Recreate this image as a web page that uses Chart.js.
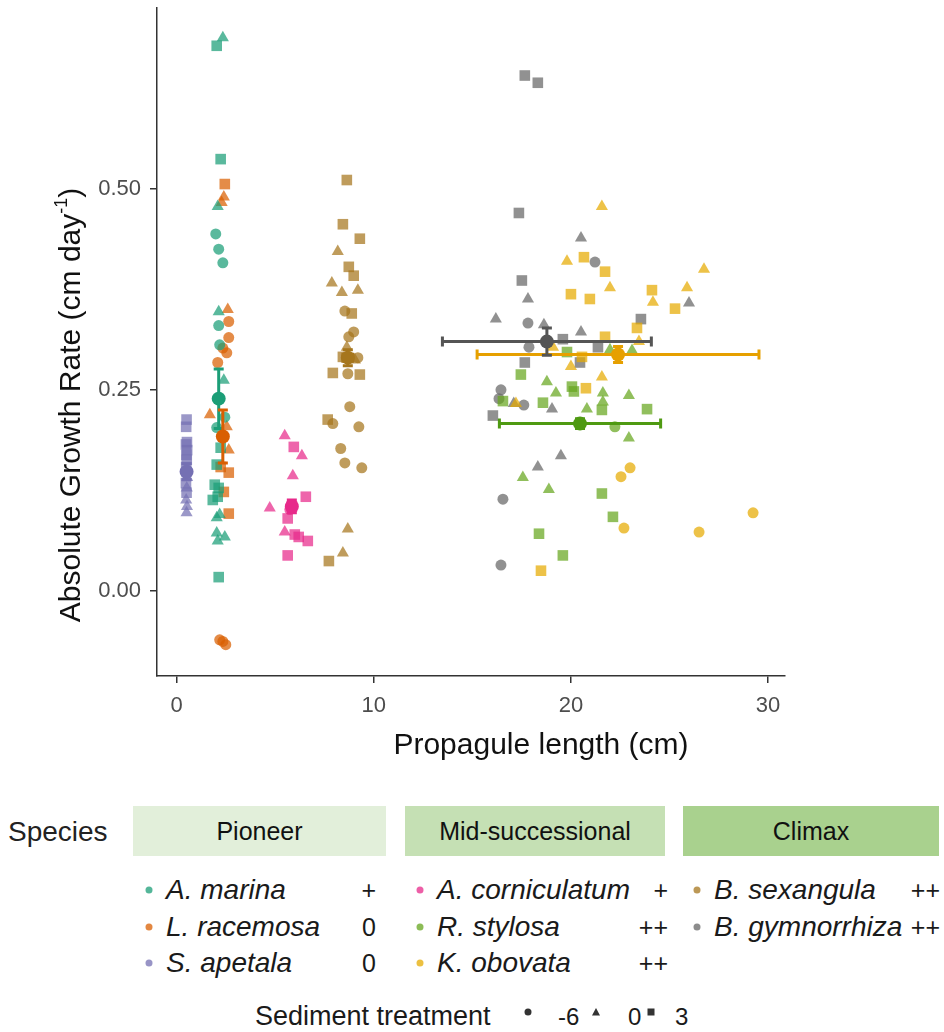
<!DOCTYPE html>
<html>
<head>
<meta charset="utf-8">
<script src="https://cdn.jsdelivr.net/npm/chart.js@4.4.1/dist/chart.umd.min.js"></script>
<style>
  body { margin: 0; background: #fff; font-family: "Liberation Sans", Arial, sans-serif; }
  #wrap { position: relative; width: 944px; height: 1032px; overflow: hidden; }
  #chart { position: absolute; left: 0; top: 0; }
  .lg { position: absolute; white-space: nowrap; line-height: 1; transform: translateY(-50%); color: #1a1a1a; }
  .box { position: absolute; height: 50px; display: flex; align-items: center; justify-content: center; font-size: 25px; color: #111; }
  .dot { position: absolute; width: 7px; height: 7px; border-radius: 50%; transform: translate(-50%, -50%); }
</style>
</head>
<body>
<div id="wrap">
  <canvas id="chart" width="944" height="780"></canvas>
  <div id="legend"></div>
</div>
<script>
// each point: [propagule length (cm), absolute growth rate (cm/day), sediment treatment]
const aMarina = [
  [2.03, 0.678, 3], [2.34, 0.688, 0], [2.23, 0.537, 3], [2.08, 0.478, 0], [1.98, 0.444, -6],
  [2.13, 0.425, -6], [2.34, 0.408, -6], [2.13, 0.347, 0], [2.13, 0.330, -6], [2.18, 0.306, -6],
  [2.39, 0.262, 0], [2.44, 0.216, -6], [2.03, 0.203, -6], [2.23, 0.178, 3], [2.03, 0.157, 3],
  [1.93, 0.132, 3], [2.13, 0.128, 3], [1.83, 0.113, 3], [2.08, 0.117, 3], [2.03, 0.091, 0],
  [2.18, 0.095, 0], [2.03, 0.072, 0], [2.44, 0.067, 0], [2.08, 0.062, 0], [2.13, 0.017, 3]
];
const lRacemosa = [
  [2.44, 0.506, 3], [2.39, 0.490, 0], [2.28, 0.483, 0], [2.59, 0.350, 0], [2.64, 0.335, -6],
  [2.64, 0.315, -6], [2.34, 0.302, -6], [2.54, 0.296, -6], [2.08, 0.284, -6], [1.68, 0.219, 0],
  [2.54, 0.204, 0], [2.64, 0.175, 0], [2.23, 0.154, 3], [2.64, 0.147, 3], [2.39, 0.123, 3],
  [2.64, 0.096, 3], [2.18, -0.061, -6], [2.49, -0.067, -6], [2.34, -0.063, -6]
];
const sApetala = [
  [0.50, 0.213, 3], [0.48, 0.204, 3], [0.52, 0.185, 3], [0.47, 0.182, 3], [0.53, 0.175, 3],
  [0.49, 0.169, 3], [0.51, 0.163, 3], [0.48, 0.154, 3], [0.52, 0.150, -6], [0.49, 0.146, -6],
  [0.53, 0.141, 0], [0.47, 0.134, 3], [0.51, 0.128, 0], [0.50, 0.122, 3], [0.48, 0.113, 0],
  [0.52, 0.105, 0], [0.50, 0.097, 0]
];
const aCorniculatum = [
  [5.48, 0.193, 0], [5.94, 0.179, 3], [6.35, 0.168, 0], [5.89, 0.143, 0], [6.55, 0.117, 3],
  [4.72, 0.103, 0], [5.74, 0.101, -6], [5.63, 0.090, 3], [5.48, 0.073, 0], [5.99, 0.070, 3],
  [6.19, 0.067, 3], [6.65, 0.062, 3], [5.63, 0.044, 3]
];
const rStylosa = [
  [19.80, 0.297, 3], [21.98, 0.300, 0], [23.10, 0.299, 0], [17.46, 0.269, 3], [18.78, 0.260, 0],
  [20.05, 0.254, 3], [20.15, 0.248, 3], [16.55, 0.236, 3], [19.24, 0.246, 0], [18.58, 0.234, 3],
  [21.62, 0.246, 0], [21.62, 0.235, 0], [21.57, 0.225, 3], [20.81, 0.226, 0], [22.94, 0.243, 0],
  [23.86, 0.226, 3], [22.23, 0.204, -6], [22.94, 0.190, 0], [17.56, 0.141, 0], [18.88, 0.126, 0],
  [21.57, 0.121, 3], [22.13, 0.092, 3], [18.38, 0.071, 3], [19.59, 0.044, 3]
];
const kObovata = [
  [21.57, 0.478, 0], [19.80, 0.410, 0], [20.66, 0.415, 3], [21.73, 0.397, 3], [21.98, 0.377, 0],
  [20.00, 0.369, 3], [20.96, 0.363, 3], [24.11, 0.374, 3], [24.16, 0.359, 0], [25.89, 0.377, 0],
  [26.75, 0.400, 0], [25.28, 0.351, 3], [23.35, 0.327, 3], [21.73, 0.316, 3], [23.45, 0.310, 0],
  [19.09, 0.303, 0], [20.56, 0.291, 3], [20.00, 0.279, 0], [21.57, 0.266, 0], [20.76, 0.252, 3],
  [17.21, 0.233, 0], [23.00, 0.153, -6], [22.54, 0.142, -6], [22.69, 0.078, -6], [26.50, 0.073, -6],
  [29.24, 0.097, -6], [18.48, 0.025, 3]
];
const bSexangula = [
  [8.63, 0.511, 3], [8.43, 0.456, 3], [9.29, 0.438, 3], [8.17, 0.422, 0], [8.73, 0.403, 3],
  [8.98, 0.392, 3], [7.87, 0.383, 0], [8.38, 0.371, 0], [9.19, 0.374, 0], [8.53, 0.348, -6],
  [8.88, 0.345, 3], [8.98, 0.322, -6], [8.73, 0.316, -6], [8.63, 0.303, 0], [8.43, 0.291, 3],
  [9.04, 0.287, 0], [9.19, 0.290, -6], [7.92, 0.271, 3], [8.68, 0.270, -6], [9.29, 0.269, 3],
  [8.78, 0.229, -6], [7.66, 0.213, 3], [7.92, 0.208, -6], [9.24, 0.204, -6], [8.32, 0.177, -6],
  [8.53, 0.159, -6], [9.39, 0.153, -6], [8.68, 0.077, 0], [8.43, 0.047, 0], [7.72, 0.037, 3]
];
const bGymnorrhiza = [
  [17.66, 0.641, 3], [18.32, 0.632, 3], [17.36, 0.470, 3], [20.51, 0.439, 0], [21.22, 0.409, -6],
  [17.51, 0.386, 3], [17.82, 0.363, 0], [16.19, 0.338, 0], [17.82, 0.333, -6], [18.63, 0.331, 0],
  [20.51, 0.322, 0], [19.59, 0.313, 3], [23.55, 0.338, 3], [25.99, 0.358, 0], [17.87, 0.303, -6],
  [21.37, 0.303, 3], [17.66, 0.284, 3], [20.46, 0.284, 3], [16.45, 0.250, -6], [16.35, 0.239, -6],
  [17.10, 0.233, 0], [17.61, 0.231, -6], [19.04, 0.226, 0], [16.04, 0.218, 3], [19.49, 0.168, 0],
  [18.32, 0.154, 0], [16.55, 0.114, -6], [16.45, 0.032, -6]
];

const speciesNames = ['A. marina', 'L. racemosa', 'S. apetala', 'A. corniculatum', 'R. stylosa', 'K. obovata', 'B. sexangula', 'B. gymnorrhiza'];
const speciesPoints = [aMarina, lRacemosa, sApetala, aCorniculatum, rStylosa, kObovata, bSexangula, bGymnorrhiza];
const speciesSigns = ['+', '0', '0', '+', '++', '++', '++', '++'];
const speciesGroup = [0, 0, 0, 1, 1, 1, 2, 2];
const groupNames = ['Pioneer', 'Mid-successional', 'Climax'];

// species means with error bars (x = propagule length, y = growth rate)
const meanX = [2.13, 2.34, 0.50, 5.84, 20.46, 22.39, 8.68, 18.78];
const meanY = [0.239, 0.192, 0.148, 0.105, 0.208, 0.294, 0.290, 0.310];
const errX = [0.05, 0.05, 0.03, 0.20, 4.09, 7.15, 0.25, 5.30];
const errY = [0.037, 0.033, 0.010, 0.008, 0.006, 0.010, 0.010, 0.017];

const treatments = [-6, 0, 3];
const xTicks = [0, 10, 20, 30];
const yTicks = [0, 0.25, 0.5];

// styles
const colors = ['#1B9E77', '#D95F02', '#7570B3', '#E7298A', '#66A61E', '#E6AB02', '#A6761D', '#666666'];
const meanColors = ['#1B9E77', '#D95F02', '#7570B3', '#E7298A', '#4F9A12', '#E6A000', '#A6761D', '#555555'];
const shapeOf = { '-6': 'circle', '0': 'triangle', '3': 'rect' };
const radiusOf = { '-6': 5.5, '0': 7, '3': 7.5 };
const fadeCol = (hex, a) => {
  const n = parseInt(hex.slice(1), 16);
  return `rgba(${n >> 16},${(n >> 8) & 255},${n & 255},${a})`;
};

const datasets = speciesPoints.map((pts, i) => ({
  label: speciesNames[i],
  data: pts.map(p => ({ x: p[0], y: p[1], t: p[2] })),
  pointStyle: c => shapeOf[c.raw.t],
  pointRadius: c => radiusOf[c.raw.t],
  backgroundColor: fadeCol(colors[i], 0.72),
  borderWidth: 0,
  pointBorderWidth: 0
}));

// means + error bars drawn on top of the points
const meanBars = {
  id: 'meanBars',
  afterDatasetsDraw(chart) {
    const { ctx, scales: { x, y } } = chart;
    ctx.save();
    meanX.forEach((mx, i) => {
      const px = x.getPixelForValue(mx), py = y.getPixelForValue(meanY[i]);
      const x0 = x.getPixelForValue(mx - errX[i]), x1 = x.getPixelForValue(mx + errX[i]);
      const y0 = y.getPixelForValue(meanY[i] - errY[i]), y1 = y.getPixelForValue(meanY[i] + errY[i]);
      ctx.strokeStyle = meanColors[i];
      ctx.lineWidth = 3;
      ctx.beginPath();
      ctx.moveTo(x0, py); ctx.lineTo(x1, py);
      ctx.moveTo(x0, py - 5); ctx.lineTo(x0, py + 5);
      ctx.moveTo(x1, py - 5); ctx.lineTo(x1, py + 5);
      ctx.moveTo(px, y0); ctx.lineTo(px, y1);
      ctx.moveTo(px - 5, y0); ctx.lineTo(px + 5, y0);
      ctx.moveTo(px - 5, y1); ctx.lineTo(px + 5, y1);
      ctx.stroke();
      ctx.fillStyle = meanColors[i];
      ctx.beginPath();
      ctx.arc(px, py, 7, 0, Math.PI * 2);
      ctx.fill();
    });
    ctx.restore();
  }
};

// axis titles (y title carries a superscript)
const axisTitles = {
  id: 'axisTitles',
  afterDraw(chart) {
    const ctx = chart.ctx;
    ctx.save();
    ctx.fillStyle = '#111';
    ctx.textBaseline = 'middle';
    ctx.font = '30px "Liberation Sans", Arial, sans-serif';
    ctx.textAlign = 'center';
    ctx.fillText('Propagule length (cm)', 541, 746);

    ctx.translate(70, 405);
    ctx.rotate(-Math.PI / 2);
    const a = 'Absolute Growth Rate (cm day', sup = '-1', b = ')';
    ctx.font = '30px "Liberation Sans", Arial, sans-serif';
    const wa = ctx.measureText(a).width, wb = ctx.measureText(b).width;
    ctx.font = '18px "Liberation Sans", Arial, sans-serif';
    const ws = ctx.measureText(sup).width;
    let cx = -(wa + ws + wb) / 2;
    ctx.textAlign = 'left';
    ctx.font = '30px "Liberation Sans", Arial, sans-serif';
    ctx.fillText(a, cx, 2);
    ctx.font = '18px "Liberation Sans", Arial, sans-serif';
    ctx.fillText(sup, cx + wa, -8);
    ctx.font = '30px "Liberation Sans", Arial, sans-serif';
    ctx.fillText(b, cx + wa + ws, 2);
    ctx.restore();
  }
};

const axisLine = { display: true, color: '#333', width: 1.5 };
const tickGrid = { display: true, drawOnChartArea: false, drawTicks: true, tickLength: 7, color: '#333', lineWidth: 1.5 };
const tickFont = { family: '"Liberation Sans", Arial, sans-serif', size: 22 };

new Chart(document.getElementById('chart'), {
  type: 'scatter',
  data: { datasets },
  options: {
    responsive: false,
    animation: false,
    layout: { padding: { left: 56, top: 8, right: 159, bottom: 0 } },
    plugins: { legend: { display: false }, tooltip: { enabled: false } },
    scales: {
      x: {
        type: 'linear', min: -1.0, max: 30.86,
        afterBuildTicks: s => { s.ticks = xTicks.map(v => ({ value: v })); },
        afterFit: s => { s.height = 104; s.paddingLeft = 0; s.paddingRight = 0; },
        grid: tickGrid, border: axisLine,
        ticks: { color: '#4d4d4d', font: tickFont, padding: 10, callback: v => String(v) }
      },
      y: {
        type: 'linear', min: -0.106, max: 0.725,
        afterBuildTicks: s => { s.ticks = yTicks.map(v => ({ value: v })); },
        afterFit: s => { s.width = 101; s.paddingTop = 0; s.paddingBottom = 0; },
        grid: tickGrid, border: axisLine,
        ticks: { color: '#4d4d4d', font: tickFont, padding: 9, callback: v => v.toFixed(2) }
      }
    }
  },
  plugins: [meanBars, axisTitles]
});

// legend below the panel
const legend = document.getElementById('legend');
const add = (html) => legend.insertAdjacentHTML('beforeend', html);
add('<div class="lg" style="left:8px;top:832px;font-size:28px;color:#222">Species</div>');
const boxes = [[133, 253, '#E2EFDA'], [405, 260, '#C5E0B4'], [683, 256, '#A9D18E']];
groupNames.forEach((g, k) => {
  const [l, w, c] = boxes[k];
  add(`<div class="box" style="left:${l}px;top:806px;width:${w}px;background:${c}">${g}</div>`);
});
const colDot = [149, 420, 697], colName = [166, 437, 714], colSign = [376, 668, 940];
const rowY = [890, 927, 963];
const rowIdx = [0, 0, 0];
speciesNames.forEach((name, i) => {
  const g = speciesGroup[i], r = rowIdx[g]++;
  add(`<div class="dot" style="left:${colDot[g]}px;top:${rowY[r]}px;background:${fadeCol(colors[i], 0.75)}"></div>`);
  add(`<div class="lg" style="left:${colName[g]}px;top:${rowY[r]}px;font-size:28px;font-style:italic">${name}</div>`);
  add(`<div class="lg" style="right:${944 - colSign[g]}px;top:${rowY[r]}px;font-size:25px">${speciesSigns[i]}</div>`);
});
add('<div class="lg" style="left:255px;top:1016px;font-size:27px">Sediment treatment</div>');
const symX = [528, 596, 651], labX = [558, 628, 675];
const symSvg = {
  '-6': '<circle cx="5" cy="5" r="3.5" fill="#333"/>',
  '0': '<polygon points="5,1 9,8.5 1,8.5" fill="#333"/>',
  '3': '<rect x="1.5" y="1.5" width="7" height="7" fill="#333"/>'
};
treatments.forEach((t, k) => {
  add(`<svg style="position:absolute;left:${symX[k] - 5}px;top:${1012 - 5}px" width="10" height="10">${symSvg[t]}</svg>`);
  add(`<div class="lg" style="left:${labX[k]}px;top:1017px;font-size:24px">${t}</div>`);
});
</script>
</body>
</html>
